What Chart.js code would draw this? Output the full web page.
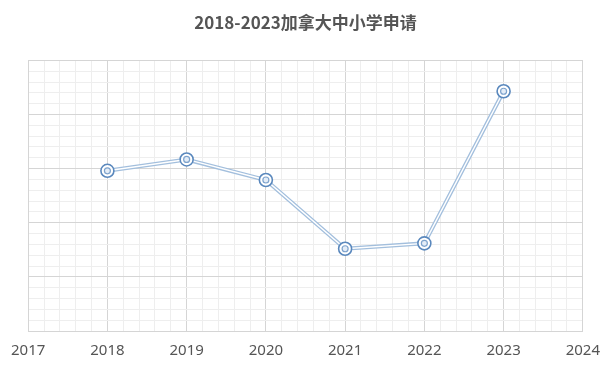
<!DOCTYPE html>
<html>
<head>
<meta charset="utf-8">
<script src="https://cdn.jsdelivr.net/npm/chart.js@4/dist/chart.umd.min.js"></script>
<style>
  html, body { margin: 0; padding: 0; background: #fff; }
  #wrap { width: 611px; height: 369px; }
</style>
</head>
<body>
<div id="wrap"><canvas id="myChart"></canvas></div>
<script>
// data (y has no labels, so the scale is relative)
const years = [2018, 2019, 2020, 2021, 2022, 2023];
const applications = [2.96, 3.17, 2.79, 1.52, 1.62, 4.43];
const xRange = [2017, 2024];
const yRange = [0, 5];

const points = years.map((y, i) => ({ x: y, y: applications[i] }));

const isMajor = v => Math.abs(v - Math.round(v)) < 1e-6;
const gridColor = ctx => (ctx.tick && isMajor(ctx.tick.value)) ? '#d5d5d5' : '#eeeeee';

const ctx = document.getElementById('myChart').getContext('2d');
new Chart(ctx, {
  type: 'line',
  data: {
    datasets: [
      // outer line (gives the double-line look together with the white one)
      { data: points, borderColor: '#a3bfdd', borderWidth: 4, pointRadius: 0, order: 4 },
      { data: points, borderColor: '#ffffff', borderWidth: 1.4, pointRadius: 0, order: 3 },
      // ringed markers
      { data: points, showLine: false, pointRadius: 6.5, pointBorderWidth: 1.6,
        pointBorderColor: '#5a88bd', pointBackgroundColor: '#ffffff', order: 2 },
      { data: points, showLine: false, pointRadius: 3, pointBorderWidth: 1.2,
        pointBorderColor: '#7ea3cd', pointBackgroundColor: '#e4edf7', order: 1 }
    ]
  },
  options: {
    responsive: true,
    maintainAspectRatio: false,
    animation: false,
    layout: { padding: { left: 12, right: 12, top: 4, bottom: -2 } },
    plugins: {
      legend: { display: false },
      tooltip: { enabled: false },
      title: {
        display: true,
        text: '2018-2023加拿大中小学申请',
        color: '#555555',
        font: { family: '"Noto Sans CJK SC", "Noto Sans", sans-serif', size: 17, weight: 'bold' },
        padding: { top: 8, bottom: 20 }
      }
    },
    scales: {
      x: {
        type: 'linear',
        min: xRange[0],
        max: xRange[1],
        grid: { color: gridColor, drawTicks: false, lineWidth: 1 },
        border: { display: true, color: '#d5d5d5' },
        ticks: {
          stepSize: 0.2,
          autoSkip: false,
          maxRotation: 0,
          padding: 11,
          color: '#555555',
          font: { family: '"Noto Sans", sans-serif', size: 15 },
          callback: v => isMajor(v) ? String(Math.round(v)) : ''
        }
      },
      y: {
        min: yRange[0],
        max: yRange[1],
        grid: { color: gridColor, drawTicks: false, lineWidth: 1 },
        border: { display: true, color: '#d5d5d5' },
        ticks: { stepSize: 0.2, display: false }
      },
      yRight: {
        position: 'right',
        min: yRange[0],
        max: yRange[1],
        grid: { display: false },
        border: { display: true, color: '#d5d5d5' },
        ticks: { display: false }
      },
      xTop: {
        type: 'linear',
        position: 'top',
        min: xRange[0],
        max: xRange[1],
        grid: { display: false },
        border: { display: true, color: '#d5d5d5' },
        ticks: { display: false }
      }
    }
  }
});
</script>
</body>
</html>
